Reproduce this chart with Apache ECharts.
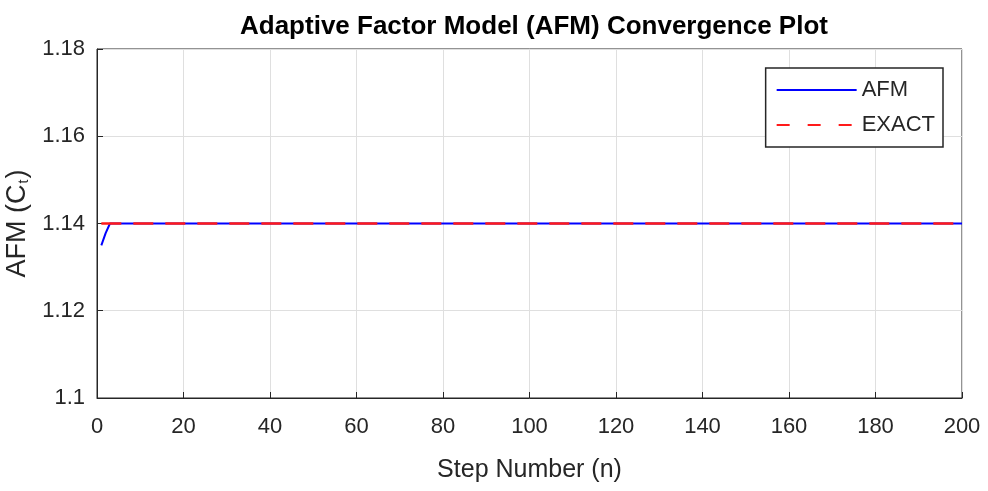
<!DOCTYPE html>
<html>
<head>
<meta charset="utf-8">
<script src="https://cdn.jsdelivr.net/npm/echarts@6/dist/echarts.min.js"></script>
<style>
  html, body { margin: 0; padding: 0; background: #fff; }
  #chart { width: 988px; height: 491px; }
</style>
</head>
<body>
<div id="chart"></div>
<script>
// step number (n) and value pairs
const afmSteps = [1, 2, 3, 200]
const afmValues = [1.1350, 1.1378, 1.1400, 1.1400]
const exactSteps = [1, 200]
const exactValues = [1.14, 1.14]
const xTicks = [0, 200, 20]
const yTicks = [1.1, 1.18, 0.02]

const FONT = "'Liberation Sans', Arial, sans-serif"
const TXT = '#262626'

const chart = echarts.init(document.getElementById('chart'))

function pairs(xs, ys) {
  return xs.map((x, i) => [x, ys[i]])
}

chart.setOption({
  backgroundColor: '#fff',
  animation: false,
  title: {
    text: 'Adaptive Factor Model (AFM) Convergence Plot',
    left: 235,
    top: 9,
    textStyle: { fontFamily: FONT, fontSize: 26, fontWeight: 'bold', color: '#000' },
  },
  grid: {
    left: 97, right: 26, top: 49, bottom: 93,
    outerBoundsMode: 'none',
    containLabel: false,
    show: true, borderColor: TXT, borderWidth: 1,
  },
  legend: {
    right: 45, top: 68,
    orient: 'vertical',
    itemWidth: 80, itemHeight: 14, itemGap: 13,
    padding: [11, 8, 11, 10],
    borderColor: TXT, borderWidth: 1.5,
    backgroundColor: '#fff',
    itemStyle: { opacity: 0 },
    textStyle: { fontFamily: FONT, fontSize: 22, color: TXT },
    data: [
      { name: 'AFM' },
      { name: 'EXACT', lineStyle: { type: [13, 18] } },
    ],
  },
  xAxis: {
    type: 'value',
    min: xTicks[0], max: xTicks[1], interval: xTicks[2],
    name: 'Step Number (n)',
    nameLocation: 'middle', nameGap: 60,
    nameTextStyle: { fontFamily: FONT, fontSize: 25, color: TXT },
    axisLine: { lineStyle: { color: TXT } },
    axisTick: { inside: true, length: 6, lineStyle: { color: TXT } },
    axisLabel: { fontFamily: FONT, fontSize: 22, color: TXT, margin: 18 },
    splitLine: { lineStyle: { color: '#dfdfdf' } },
  },
  yAxis: {
    type: 'value',
    min: yTicks[0], max: yTicks[1], interval: yTicks[2],
    name: 'AFM (C{sub|t})',
    nameLocation: 'middle', nameGap: 55,
    nameTextStyle: {
      fontFamily: FONT, fontSize: 27, color: TXT,
      rich: { sub: { fontFamily: FONT, fontSize: 14, color: TXT, verticalAlign: 'bottom', padding: [12, 1, 0, 1] } },
    },
    axisLine: { lineStyle: { color: TXT } },
    axisTick: { inside: true, length: 6, lineStyle: { color: TXT } },
    axisLabel: { fontFamily: FONT, fontSize: 22, color: TXT, margin: 12 },
    splitLine: { lineStyle: { color: '#dfdfdf' } },
  },
  series: [
    {
      name: 'AFM', type: 'line', symbol: 'none',
      data: pairs(afmSteps, afmValues),
      lineStyle: { color: '#0000ff', width: 2 },
      itemStyle: { color: '#0000ff' },
      z: 3,
    },
    {
      name: 'EXACT', type: 'line', symbol: 'none',
      data: pairs(exactSteps, exactValues),
      lineStyle: { color: '#ff1a1a', width: 2.5, type: [20, 12] },
      itemStyle: { color: '#ff1a1a' },
      z: 4,
    },
  ],
})
</script>
</body>
</html>
